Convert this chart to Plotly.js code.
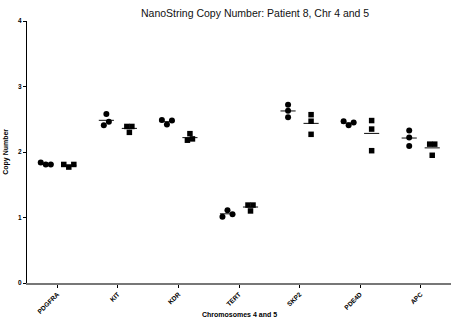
<!DOCTYPE html>
<html>
<head>
<meta charset="utf-8">
<script src="https://cdn.plot.ly/plotly-3.0.1.min.js"></script>
<style>html,body{margin:0;padding:0;background:#fff;}#chart{width:462px;height:320px;}</style>
</head>
<body>
<div id="chart"></div>
<script>
// ---- data ----
const genes = ['PDGFRA', 'KIT', 'KDR', 'TERT', 'SKP2', 'PDE4D', 'APC'];
const circleSeries = [
  [1.84, 1.81, 1.81],
  [2.41, 2.58, 2.46],
  [2.49, 2.42, 2.48],
  [1.01, 1.11, 1.05],
  [2.72, 2.63, 2.53],
  [2.47, 2.41, 2.45],
  [2.33, 2.22, 2.09]
];
const squareSeries = [
  [1.81, 1.77, 1.81],
  [2.39, 2.39, 2.30],
  [2.18, 2.28, 2.20],
  [1.19, 1.19, 1.10],
  [2.57, 2.47, 2.27],
  [2.48, 2.35, 2.02],
  [2.12, 2.12, 1.95]
];
const yTicks = [0, 1, 2, 3, 4];

// ---- layout helpers ----
const groupOffset = 0.19;
const spread = 0.083;
const clusterThr = 0.07;
const halfLine = 0.125;

function swarmOffsets(vals) {
  const idx = vals.map((v, i) => i).sort((a, b) => vals[a] - vals[b]);
  const clusters = [];
  let cur = [idx[0]];
  for (let k = 1; k < idx.length; k++) {
    if (vals[idx[k]] - vals[idx[k - 1]] < clusterThr) cur.push(idx[k]);
    else { clusters.push(cur); cur = [idx[k]]; }
  }
  clusters.push(cur);
  const off = new Array(vals.length).fill(0);
  clusters.forEach(c => {
    c.sort((a, b) => a - b);
    c.forEach((i, k) => { off[i] = (k - (c.length - 1) / 2) * spread; });
  });
  return off;
}

function buildTraces(series, shift, symbol, size) {
  const xs = [], ys = [], lx = [], ly = [];
  series.forEach((vals, g) => {
    const c = g + shift;
    const off = swarmOffsets(vals);
    vals.forEach((v, i) => { xs.push(c + off[i]); ys.push(v); });
    const m = vals.reduce((a, b) => a + b, 0) / vals.length;
    lx.push(c - halfLine, c + halfLine, null);
    ly.push(m, m, null);
  });
  return [
    {x: lx, y: ly, mode: 'lines', type: 'scatter', line: {color: '#222', width: 1.1},
     hoverinfo: 'skip', showlegend: false},
    {x: xs, y: ys, mode: 'markers', type: 'scatter',
     marker: {symbol: symbol, size: size, color: '#000'}, showlegend: false}
  ];
}

const traces = [].concat(
  buildTraces(circleSeries, -groupOffset, 'circle', 6),
  buildTraces(squareSeries, groupOffset, 'square', 5.5)
);

const tickFont = {family: 'Arial, "Liberation Sans", sans-serif', size: 6.5, color: '#000', weight: 'bold'};

const layout = {
  width: 462, height: 320,
  margin: {l: 27, r: 11, t: 21, b: 37},
  paper_bgcolor: '#fff', plot_bgcolor: '#fff',
  title: {text: 'NanoString Copy Number: Patient 8, Chr 4 and 5',
          font: {family: 'Arial, "Liberation Sans", sans-serif', size: 10.5, color: '#111'},
          x: 0.538, xref: 'paper', xanchor: 'center', y: 0.958, yanchor: 'middle'},
  xaxis: {
    range: [-0.5, 6.5], tickvals: genes.map((g, i) => i), ticktext: genes,
    tickangle: -45, tickfont: tickFont, ticks: 'outside', ticklen: 3, tickwidth: 1, tickcolor: '#000',
    showgrid: false, zeroline: false, showline: true, linecolor: '#777', linewidth: 2,
    fixedrange: true
  },
  yaxis: {
    range: [0, 4], tickvals: yTicks, tickfont: tickFont, ticks: 'outside', ticklen: 3,
    tickwidth: 1, tickcolor: '#000', showgrid: false, zeroline: false,
    showline: true, linecolor: '#000', linewidth: 1.2, fixedrange: true
  },
  annotations: [
    {text: '<b>Chromosomes 4 and 5</b>', xref: 'paper', yref: 'paper', x: 0.5, y: -0.12,
     xanchor: 'center', yanchor: 'middle', showarrow: false,
     font: {family: 'Arial, "Liberation Sans", sans-serif', size: 7, color: '#000'}},
    {text: '<b>Copy Number</b>', xref: 'paper', yref: 'paper', x: -0.05, y: 0.5,
     xanchor: 'center', yanchor: 'middle', textangle: -90, showarrow: false,
     font: {family: 'Arial, "Liberation Sans", sans-serif', size: 7, color: '#000'}}
  ]
};

Plotly.newPlot('chart', traces, layout, {displayModeBar: false, staticPlot: true});
</script>
</body>
</html>
